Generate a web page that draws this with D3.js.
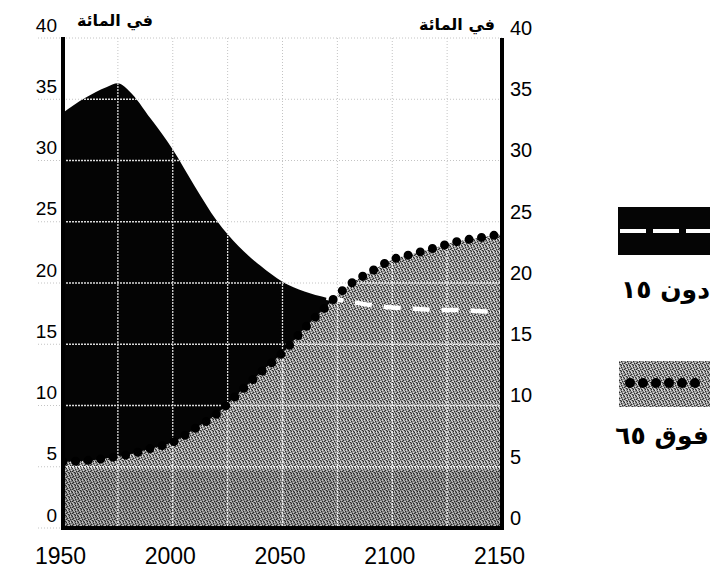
<!DOCTYPE html>
<html><head><meta charset="utf-8">
<script src="https://cdn.jsdelivr.net/npm/d3@7"></script>
<style>body{margin:0;background:#fff} svg{display:block}</style>
</head><body>
<svg id="c" width="711" height="571"></svg>
<script>
// ---- data ----
const years   = [1950,1960,1970,1975,1980,1990,2000,2010,2020,2030,2040,2050,2060,2070,2080,2090,2100,2110,2120,2130,2140,2150];
const under15 = [33.9,35.1,36.0,36.3,35.7,33.4,30.9,27.9,25.1,23.0,21.4,20.1,19.3,18.8,18.5,18.2,18.0,17.9,17.8,17.8,17.7,17.6];
const over65  = [5.4,5.5,5.7,5.85,6.0,6.5,7.0,8.1,9.3,11.0,12.7,14.3,16.3,18.1,19.8,20.9,21.9,22.4,22.9,23.4,23.7,24.0];
const yTicks = [0,5,10,15,20,25,30,35,40];
const xTicks = [1950,2000,2050,2100,2150];
const gridYears = [1975,2000,2025,2050,2075,2100,2125];
const unitLabel = "في المائة";
const legendLabels = ["دون ١٥","فوق ٦٥"];

const svg = d3.select("#c");
const x = d3.scaleLinear().domain([1950,2150]).range([63,502]);
const y = d3.scaleLinear().domain([0,40]).range([528,38]);
const rows = years.map((yr,i)=>({yr, u:under15[i], o:over65[i]}));

// ---- defs ----
const defs = svg.append("defs");
const pat = defs.append("pattern").attr("id","grain").attr("patternUnits","userSpaceOnUse")
  .attr("width",6).attr("height",6);
pat.append("rect").attr("width",6).attr("height",6).attr("fill","#8e8e8e");
const darkPx = [[0,0],[3,1],[1,2],[4,3],[2,4],[5,5],[0,3],[3,5]];
const lightPx = [[1,0],[4,0],[2,1],[5,2],[0,4],[3,3],[1,5],[4,5],[2,3]];
darkPx.forEach(p=>pat.append("rect").attr("x",p[0]).attr("y",p[1]).attr("width",1).attr("height",1).attr("fill","#2e2e2e"));
lightPx.forEach(p=>pat.append("rect").attr("x",p[0]).attr("y",p[1]).attr("width",1).attr("height",1).attr("fill","#dcdcdc"));

const areaU = d3.area().x(d=>x(d.yr)).y0(y(0)).y1(d=>y(d.u)).curve(d3.curveMonotoneX);
const areaO = d3.area().x(d=>x(d.yr)).y0(y(0)).y1(d=>y(d.o)).curve(d3.curveMonotoneX);
const clip = defs.append("clipPath").attr("id","areas");
clip.append("path").attr("d",areaU(rows));
clip.append("path").attr("d",areaO(rows));
defs.append("clipPath").attr("id","plot").append("rect")
  .attr("x",x(1950)).attr("y",y(40)-10).attr("width",x(2150)-x(1950)).attr("height",y(0)-y(40)+10);

// ---- background grid (grey dotted) ----
const gBg = svg.append("g").attr("stroke","#c4c4c4").attr("stroke-width",1).attr("stroke-dasharray","1,2");
gBg.selectAll("line.h").data(yTicks).join("line").attr("class","h")
  .attr("x1",x(1950)).attr("x2",x(2150)).attr("y1",d=>y(d)).attr("y2",d=>y(d));
gBg.selectAll("line.v").data(gridYears).join("line").attr("class","v")
  .attr("x1",d=>x(d)).attr("x2",d=>x(d)).attr("y1",y(40)).attr("y2",y(0));
// faint tick marks left of the axis
gBg.selectAll("line.t").data(yTicks).join("line").attr("class","t")
  .attr("x1",38).attr("x2",60).attr("y1",d=>y(d)).attr("y2",d=>y(d));

// ---- areas ----
svg.append("path").attr("d",areaU(rows)).attr("fill","#050505");
svg.append("path").attr("d",areaO(rows)).attr("fill","url(#grain)");
// darker band at the bottom
svg.append("rect").attr("x",x(1950)).attr("y",y(5)+4).attr("width",x(2150)-x(1950)).attr("height",y(0)-y(5)-4)
  .attr("fill","#000").attr("opacity",0.12);

// ---- white grid inside areas ----
const gW = svg.append("g").attr("clip-path","url(#areas)").attr("stroke","#fff").attr("stroke-width",1.3)
  .attr("stroke-dasharray","2,1").attr("opacity",0.85);
gW.selectAll("line.h").data(yTicks.filter(d=>d>0&&d<40)).join("line").attr("class","h")
  .attr("x1",x(1950)).attr("x2",x(2150)).attr("y1",d=>y(d)).attr("y2",d=>y(d));
gW.selectAll("line.v").data(gridYears).join("line").attr("class","v")
  .attr("x1",d=>x(d)).attr("x2",d=>x(d)).attr("y1",y(40)).attr("y2",y(0));

// ---- series lines ----
const lineU = d3.line().x(d=>x(d.yr)).y(d=>y(d.u)).curve(d3.curveMonotoneX);
const lineO = d3.line().x(d=>x(d.yr)).y(d=>y(d.o)).curve(d3.curveMonotoneX);
const gS = svg.append("g").attr("clip-path","url(#plot)");
gS.append("path").attr("d",lineU(rows.filter(d=>d.yr>=2070)))
  .attr("fill","none").attr("stroke","#fff").attr("stroke-width",4.5).attr("stroke-dasharray","17,12");
gS.append("path").attr("d",lineO(rows))
  .attr("fill","none").attr("stroke","#000").attr("stroke-width",9).attr("stroke-linecap","round")
  .attr("stroke-dasharray","0,12.6");

// ---- axis frame ----
const frame = svg.append("g").attr("stroke","#000").attr("stroke-width",4);
frame.append("line").attr("x1",x(1950)).attr("x2",x(1950)).attr("y1",y(40)-1).attr("y2",y(0)+2);
frame.append("line").attr("x1",x(2150)).attr("x2",x(2150)).attr("y1",y(40)).attr("y2",y(0)+2);
frame.append("line").attr("x1",x(1950)-2).attr("x2",x(2150)+2).attr("y1",y(0)).attr("y2",y(0));

// ---- axes labels ----
const numFont = "'Liberation Sans', Arial, sans-serif";
const aL = svg.append("g").attr("transform","translate(57,0)")
  .call(d3.axisLeft(y).tickValues(yTicks).tickSize(0).tickPadding(0));
aL.select(".domain").remove();
aL.selectAll("text").attr("y",-13).attr("font-size",19).attr("font-family",numFont).attr("fill","#000");
const aR = svg.append("g").attr("transform","translate(510,0)")
  .call(d3.axisRight(y).tickValues(yTicks).tickSize(0).tickPadding(0));
aR.select(".domain").remove();
aR.selectAll("text").attr("y",-10).attr("font-size",20).attr("font-family",numFont).attr("fill","#000");
const aB = svg.append("g").attr("transform","translate(0,548)")
  .call(d3.axisBottom(x).tickValues(xTicks).tickFormat(d3.format("d")).tickSize(0).tickPadding(0));
aB.select(".domain").remove();
aB.selectAll("text").attr("dx",-3).attr("font-size",23).attr("font-family",numFont).attr("fill","#000");

// ---- unit headers ----
const arFont = "'DejaVu Sans', 'Noto Sans', sans-serif";
svg.append("text").attr("x",115).attr("y",26).attr("text-anchor","middle").attr("font-family",arFont)
  .attr("font-weight","bold").attr("font-size",16).text(unitLabel);
svg.append("text").attr("x",457).attr("y",30).attr("text-anchor","middle").attr("font-family",arFont)
  .attr("font-weight","bold").attr("font-size",16).text(unitLabel);

// ---- legend ----
const lg = svg.append("g");
lg.append("rect").attr("x",618).attr("y",207).attr("width",92).attr("height",48).attr("fill","#050505");
lg.append("line").attr("x1",620).attr("x2",710).attr("y1",231).attr("y2",231)
  .attr("stroke","#fff").attr("stroke-width",4).attr("stroke-dasharray","26,7");
lg.append("text").attr("x",710).attr("y",298).attr("text-anchor","end").attr("font-family",arFont)
  .attr("font-weight","bold").attr("font-size",25).text(legendLabels[0]);
lg.append("rect").attr("x",619).attr("y",361).attr("width",91).attr("height",46).attr("fill","url(#grain)");
lg.append("line").attr("x1",630).attr("x2",697).attr("y1",383).attr("y2",383)
  .attr("stroke","#000").attr("stroke-width",10).attr("stroke-linecap","round").attr("stroke-dasharray","0,13");
lg.append("text").attr("x",709).attr("y",444).attr("text-anchor","end").attr("font-family",arFont)
  .attr("font-weight","bold").attr("font-size",25).text(legendLabels[1]);
</script>
</body></html>
